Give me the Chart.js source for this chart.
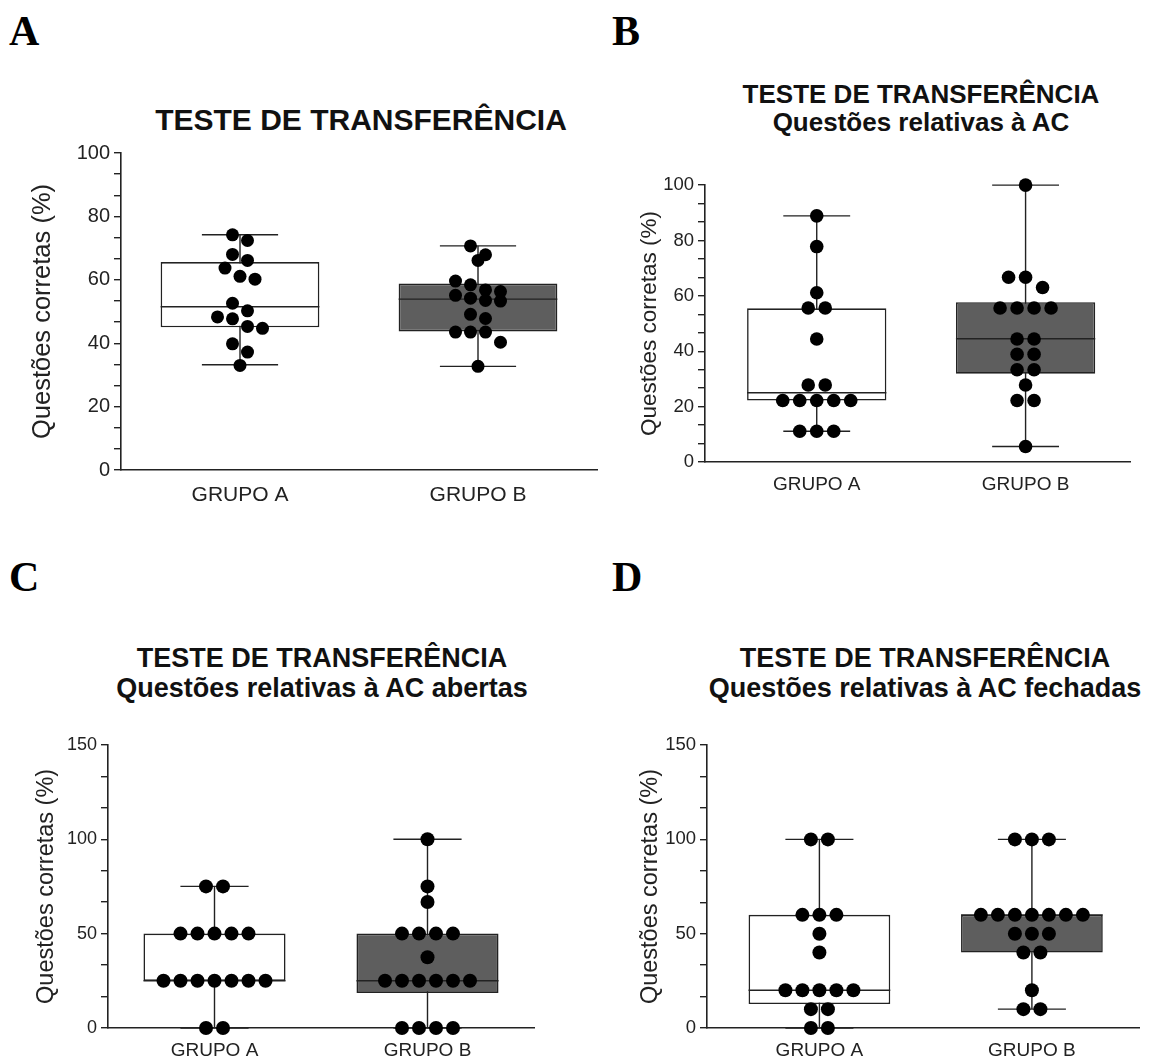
<!DOCTYPE html>
<html>
<head>
<meta charset="utf-8">
<script src="https://cdn.jsdelivr.net/npm/chart.js@4.4.0/dist/chart.umd.min.js"></script>
<style>
  body { margin: 0; background: #fff; width: 1155px; height: 1059px; position: relative; overflow: hidden;
         font-family: "Liberation Sans", Arial, sans-serif; }
  .letter { position: absolute; font: bold 42px/42px "Liberation Serif", "Times New Roman", serif; color: #000; }
  .title { position: absolute; text-align: center; font-weight: bold; color: #111; white-space: nowrap; }
  canvas { position: absolute; }
</style>
</head>
<body>
<div class="letter" style="left:9px;top:10px">A</div>
<div class="letter" style="left:612px;top:10px">B</div>
<div class="letter" style="left:9px;top:556px">C</div>
<div class="letter" style="left:612px;top:556px">D</div>

<div class="title" style="left:111px;width:500px;top:102px;font-size:30px;line-height:36px">TESTE DE TRANSFERÊNCIA</div>
<div class="title" style="left:671px;width:500px;top:80px;font-size:26px;line-height:28px">TESTE DE TRANSFERÊNCIA<br>Questões relativas à AC</div>
<div class="title" style="left:72px;width:500px;top:643px;font-size:27px;line-height:30px">TESTE DE TRANSFERÊNCIA<br>Questões relativas à AC abertas</div>
<div class="title" style="left:675px;width:500px;top:643px;font-size:27px;line-height:30px">TESTE DE TRANSFERÊNCIA<br>Questões relativas à AC fechadas</div>

<canvas id="chartA" style="left:0px;top:130px" width="610" height="400"></canvas>
<canvas id="chartB" style="left:585px;top:170px" width="560" height="340"></canvas>
<canvas id="chartC" style="left:0px;top:730px" width="550" height="329"></canvas>
<canvas id="chartD" style="left:585px;top:730px" width="570" height="329"></canvas>

<script>
// categories and axis labels
const groups = ['GRUPO A', 'GRUPO B'];
const yTitle = 'Questões corretas (%)';

// A - Teste de transferência (total)
const pointsA1 = [74.2, 72.4, 68.0, 66.1, 63.7, 61.1, 60.2, 52.6, 50.2, 48.3, 47.7, 45.3, 44.7, 39.8, 37.2, 33.0];
const pointsA2 = [70.7, 67.9, 66.1, 59.6, 58.4, 56.8, 56.3, 55.1, 54.2, 53.5, 53.3, 49.1, 47.8, 43.5, 43.5, 43.5, 40.3, 32.7];
// box stats: [min, q1, median, q3, max]
const boxA1 = [33.2, 45.0, 51.5, 65.6, 74.2];
const boxA2 = [32.7, 43.7, 53.9, 58.8, 70.7];
const ticksA = [0, 20, 40, 60, 80, 100];

// B - questões relativas à AC
const pointsB1 = [88.9, 77.8, 61.1, 55.6, 55.6, 44.4, 27.8, 27.8, 22.2, 22.2, 22.2, 22.2, 22.2, 11.1, 11.1, 11.1];
const pointsB2 = [100, 66.7, 63.0, 66.7, 55.6, 55.6, 55.6, 55.6, 44.4, 44.4, 38.9, 38.9, 33.3, 33.3, 27.8, 22.2, 22.2, 5.6];
const boxB1 = [11.1, 22.2, 25.0, 55.5, 88.9];
const boxB2 = [5.6, 31.9, 44.5, 57.7, 100];
const ticksB = [0, 20, 40, 60, 80, 100];

// C - questões relativas à AC abertas
const pointsC1 = [75, 75, 50, 50, 50, 50, 50, 25, 25, 25, 25, 25, 25, 25, 0, 0];
const pointsC2 = [100, 75, 66.7, 50, 50, 50, 50, 37.5, 25, 25, 25, 25, 25, 25, 0, 0, 0, 0];
const boxC1 = [0, 25, 25, 50, 75];
const boxC2 = [0, 18.6, 25, 50, 100];
const ticksC = [0, 50, 100, 150];

// D - questões relativas à AC fechadas
const pointsD1 = [100, 100, 60, 60, 60, 50, 40, 20, 20, 20, 20, 20, 10, 10, 0, 0];
const pointsD2 = [100, 100, 100, 60, 60, 60, 60, 60, 60, 60, 50, 50, 50, 40, 40, 20, 10, 10];
const boxD1 = [0, 12.7, 20, 60, 100];
const boxD2 = [10, 40, 60, 60, 100];
const ticksD = [0, 50, 100, 150];

Chart.defaults.font.family = '"Liberation Sans", Arial, sans-serif';
Chart.defaults.color = '#222';

// whiskers behind the boxes, median line on top of them
const boxPlugin = {
  id: 'boxWhisker',
  beforeDatasetsDraw(chart, args, opts) {
    const meta = chart.getDatasetMeta(0);
    const y = chart.scales.y;
    const ctx = chart.ctx;
    ctx.save();
    ctx.strokeStyle = opts.color;
    ctx.lineWidth = opts.lineWidth;
    opts.stats.forEach((s, i) => {
      const bar = meta.data[i];
      const hw = bar.width * opts.cap / 2;
      const yMin = y.getPixelForValue(s[0]);
      const yMax = y.getPixelForValue(s[4]);
      ctx.beginPath();
      ctx.moveTo(bar.x, yMin); ctx.lineTo(bar.x, yMax);
      ctx.moveTo(bar.x - hw, yMin); ctx.lineTo(bar.x + hw, yMin);
      ctx.moveTo(bar.x - hw, yMax); ctx.lineTo(bar.x + hw, yMax);
      ctx.stroke();
    });
    ctx.restore();
  },
  afterDatasetDraw(chart, args, opts) {
    if (args.index !== 0) return;
    const meta = chart.getDatasetMeta(0);
    const y = chart.scales.y;
    const ctx = chart.ctx;
    ctx.save();
    ctx.strokeStyle = opts.color;
    ctx.lineWidth = opts.lineWidth;
    opts.stats.forEach((s, i) => {
      const bar = meta.data[i];
      const ym = y.getPixelForValue(s[2]);
      ctx.beginPath();
      ctx.moveTo(bar.x - bar.width / 2, ym);
      ctx.lineTo(bar.x + bar.width / 2, ym);
      ctx.stroke();
    });
    ctx.restore();
  }
};

// spread dots sideways: dots closer than one diameter share a row, rows are centred
const swarmPlugin = {
  id: 'swarm',
  afterDatasetsUpdate(chart, args, opts) {
    chart.data.datasets.forEach((ds, i) => {
      if (ds.type !== 'scatter') return;
      const els = chart.getDatasetMeta(i).data.slice().sort((a, b) => a.y - b.y);
      const rows = [];
      els.forEach(el => {
        const row = rows[rows.length - 1];
        if (row && el.y - row[0].y < opts.minDist) row.push(el);
        else rows.push([el]);
      });
      rows.forEach(row => {
        const cx = row[0].x;
        row.forEach((el, n) => { el.x = cx + (n - (row.length - 1) / 2) * opts.gap; });
      });
    });
  }
};

function makeTicks(majors, sub) {
  const out = [];
  for (let i = 0; i < majors.length; i++) {
    out.push({ value: majors[i] });
    if (i < majors.length - 1) {
      const step = (majors[i + 1] - majors[i]) / (sub + 1);
      for (let k = 1; k <= sub; k++) out.push({ value: majors[i] + step * k });
    }
  }
  return out;
}

function boxChart(id, p) {
  new Chart(document.getElementById(id), {
    data: {
      datasets: [
        {
          type: 'bar',
          order: 2,
          data: [{ x: 1, y: [p.box1[1], p.box1[3]] }, { x: 2, y: [p.box2[1], p.box2[3]] }],
          backgroundColor: ['#ffffff', '#5e5e5e'],
          borderColor: '#222',
          borderWidth: 1.6,
          borderSkipped: false,
          categoryPercentage: 1,
          barPercentage: 0.667
        },
        {
          type: 'scatter',
          order: 1,
          clip: false,
          data: p.pts1.map(v => ({ x: 1, y: v })),
          pointRadius: p.r, pointBackgroundColor: '#000', pointBorderWidth: 0
        },
        {
          type: 'scatter',
          order: 1,
          clip: false,
          data: p.pts2.map(v => ({ x: 2, y: v })),
          pointRadius: p.r, pointBackgroundColor: '#000', pointBorderWidth: 0
        }
      ]
    },
    options: {
      responsive: false,
      animation: false,
      layout: { padding: { top: p.padTop, right: p.padRight, left: 0, bottom: 0 } },
      plugins: {
        legend: { display: false },
        tooltip: { enabled: false },
        boxWhisker: { stats: [p.box1, p.box2], color: '#222', lineWidth: 1.4, cap: 0.48 },
        swarm: { gap: p.gap, minDist: p.r * 2 }
      },
      scales: {
        x: {
          type: 'linear',
          offset: false,
          min: p.xMin, max: p.xMax,
          afterBuildTicks: s => { s.ticks = [{ value: 1 }, { value: 2 }]; },
          afterFit: s => { s.height = p.xH; },
          ticks: { callback: v => groups[v - 1], autoSkip: false, maxRotation: 0,
                   padding: p.xPad, font: { size: p.xFont }, color: '#222' },
          grid: { display: false, drawTicks: false, offset: false },
          border: { display: true, color: '#222', width: 1.6 }
        },
        y: {
          type: 'linear',
          min: p.ticks[0], max: p.ticks[p.ticks.length - 1],
          afterBuildTicks: s => { s.ticks = makeTicks(p.ticks, 2); },
          afterFit: s => { s.width = p.yW; },
          ticks: { callback: v => p.ticks.includes(v) ? v : '', autoSkip: false,
                   padding: 4, font: { size: p.tFont }, color: '#222' },
          grid: { drawOnChartArea: false, drawTicks: true, tickLength: 7, color: '#222', lineWidth: 1.4 },
          border: { display: true, color: '#222', width: 1.6 },
          title: { display: true, text: yTitle, font: { size: p.yFont }, color: '#222',
                   padding: { top: p.yTitlePad, bottom: 0 } }
        }
      }
    },
    plugins: [boxPlugin, swarmPlugin]
  });
}

boxChart('chartA', { pts1: pointsA1, pts2: pointsA2, box1: boxA1, box2: boxA2, ticks: ticksA,
  xMin: 0.5, xMax: 2.5, yW: 121, xH: 60, padTop: 23, padRight: 13, xPad: 13,
  xFont: 21, tFont: 20, yFont: 25.5, yTitlePad: 28, r: 6.5, gap: 15 });
boxChart('chartB', { pts1: pointsB1, pts2: pointsB2, box1: boxB1, box2: boxB2, ticks: ticksB,
  xMin: 0.465, xMax: 2.5, yW: 120, xH: 48, padTop: 14, padRight: 15, xPad: 11,
  xFont: 19, tFont: 18.5, yFont: 22.5, yTitlePad: 51, r: 6.8, gap: 17 });
boxChart('chartC', { pts1: pointsC1, pts2: pointsC2, box1: boxC1, box2: boxC2, ticks: ticksC,
  xMin: 0.5, xMax: 2.5, yW: 108, xH: 31, padTop: 14, padRight: 16, xPad: 11,
  xFont: 19, tFont: 18, yFont: 23.5, yTitlePad: 32, r: 7, gap: 17 });
boxChart('chartD', { pts1: pointsD1, pts2: pointsD2, box1: boxD1, box2: boxD2, ticks: ticksD,
  xMin: 0.471, xMax: 2.504, yW: 122, xH: 31, padTop: 14, padRight: 16, xPad: 11,
  xFont: 19, tFont: 18.5, yFont: 23.5, yTitlePad: 51, r: 7, gap: 17 });
</script>
</body>
</html>
